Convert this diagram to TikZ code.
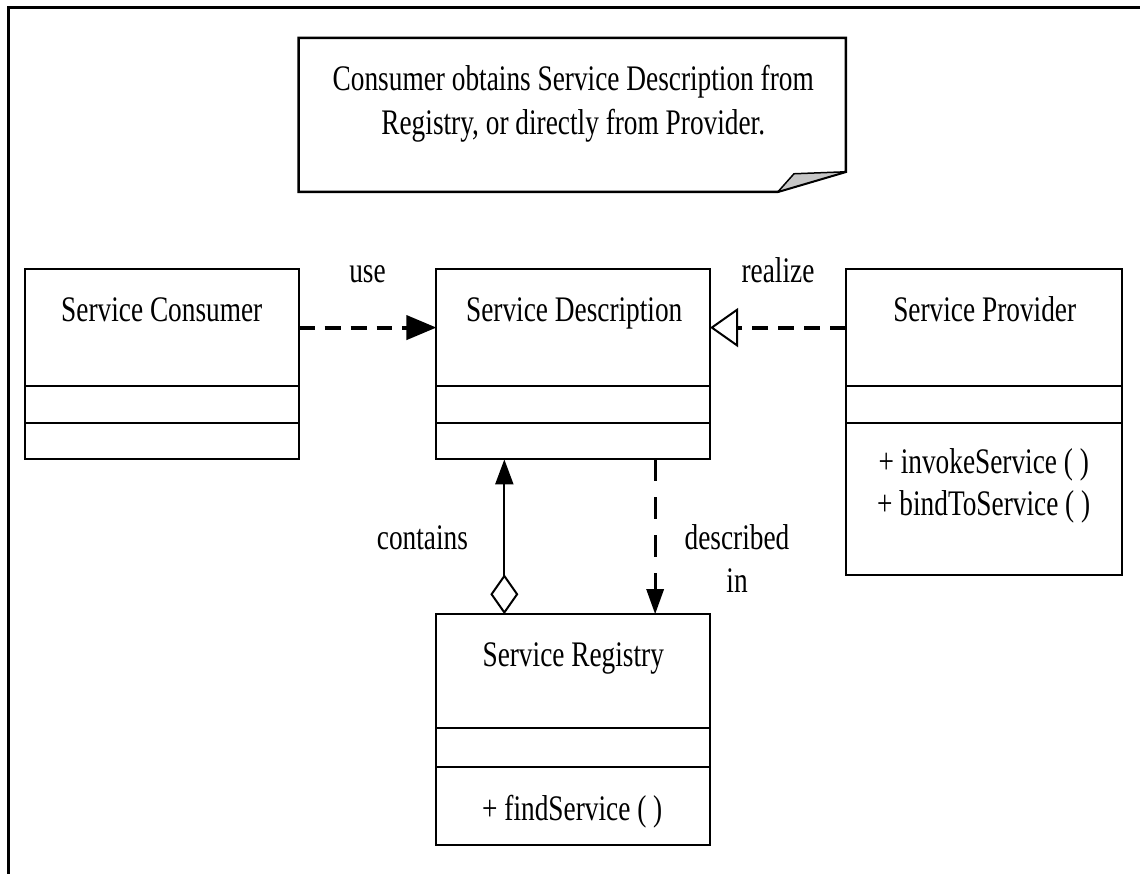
\documentclass[tikz,border=0pt]{standalone}
\usepackage{fontspec}
\setmainfont{Liberation Serif}[FakeStretch=0.76]
\usetikzlibrary{arrows.meta}

\begin{document}
\begin{tikzpicture}[x=1pt, y=-1pt,
  every node/.style={font=\fontsize{36}{43}\selectfont, inner sep=0pt},
  classbox/.style={draw, line width=2pt, rectangle, anchor=north west,
                   inner sep=0pt, outer sep=0pt},
  divider/.style={line width=2pt},
  frameline/.style={line width=3pt},
  usedep/.style={line width=4pt, dash pattern=on 16pt off 10pt,
                 -{Triangle[length=30pt,width=24pt]}},
  realizes/.style={line width=4pt, dash pattern=on 16pt off 10pt,
                 -{Triangle[open,length=28pt,width=39pt,line width=2pt]}},
  aggregation/.style={line width=2pt,
                 {Diamond[open,length=40pt,width=28pt]}-{Triangle[length=25pt,width=18pt]}},
  describes/.style={line width=3pt, dash pattern=on 22pt off 16pt,
                 -{Triangle[length=25pt,width=17pt]}},
]
% page background and extent
\fill[white] (0,0) rectangle (1141,875);

% open frame: top and left edges
\draw[frameline] (8.5,875) -- (8.5,7.5) -- (1141,7.5);

% note with folded corner
\draw[line width=2.5pt, fill=white] (299,38) -- (847,38) -- (847,172) -- (779,192) -- (299,192) -- cycle;
\filldraw[fill=gray!45, line width=1.5pt, line join=round] (779,192) -- (795,174) -- (847,172) -- cycle;
\node[align=center, font=\fontsize{36}{44}\selectfont] (noteT) at (574,103.6)
  {Consumer obtains Service Description from\\Registry, or directly from Provider.};

% classes
\node[classbox, minimum width=274pt, minimum height=191pt] (cons) at (25,269) {};
\node[classbox, minimum width=274pt, minimum height=191pt] (desc) at (437,269) {};
\node[classbox, minimum width=276pt, minimum height=307pt] (prov) at (847,269) {};
\node[classbox, minimum width=274pt, minimum height=231pt] (reg)  at (437,615) {};

% compartments
\foreach \b in {cons,desc,prov}{
  \draw[divider] ([yshift=-117pt]\b.north west) -- ([yshift=-117pt]\b.north east);
  \draw[divider] ([yshift=-155pt]\b.north west) -- ([yshift=-155pt]\b.north east);
}
\draw[divider] ([yshift=-114pt]reg.north west) -- ([yshift=-114pt]reg.north east);
\draw[divider] ([yshift=-153pt]reg.north west) -- ([yshift=-153pt]reg.north east);

% class names and operations
\node[anchor=base] (consN) at (162,322) {Service Consumer};
\node[anchor=base] (descN) at (575,322) {Service Description};
\node[anchor=base] (provN) at (986,322) {Service Provider};
\node[anchor=base] (regN)  at (574,667) {Service Registry};
\node[anchor=base] (provOp1) at (985,474) {+ invokeService ( )};
\node[anchor=base] (provOp2) at (985,516) {+ bindToService ( )};
\node[anchor=base] (regOps) at (573,822) {+ findService ( )};

% relationships
\draw[usedep]      ([yshift=36.5pt]cons.east) -- ([yshift=36.5pt]desc.west);
\draw[realizes]    ([yshift=94.5pt]prov.west) -- ([yshift=36.5pt]desc.east);
\draw[aggregation] ([xshift=68pt]reg.north west) -- ([xshift=68pt]desc.south west);
\draw[describes]   ([xshift=219pt]desc.south west) -- ([xshift=219pt]reg.north west);

% relationship labels
\node[anchor=base] (useL)  at (368,283) {use};
\node[anchor=base] (realL) at (779,283) {realize};
\node[anchor=base] (contL) at (423,550) {contains};
\node[align=center] (descL) at (738,559) {described\\in};
\end{tikzpicture}
\end{document}
